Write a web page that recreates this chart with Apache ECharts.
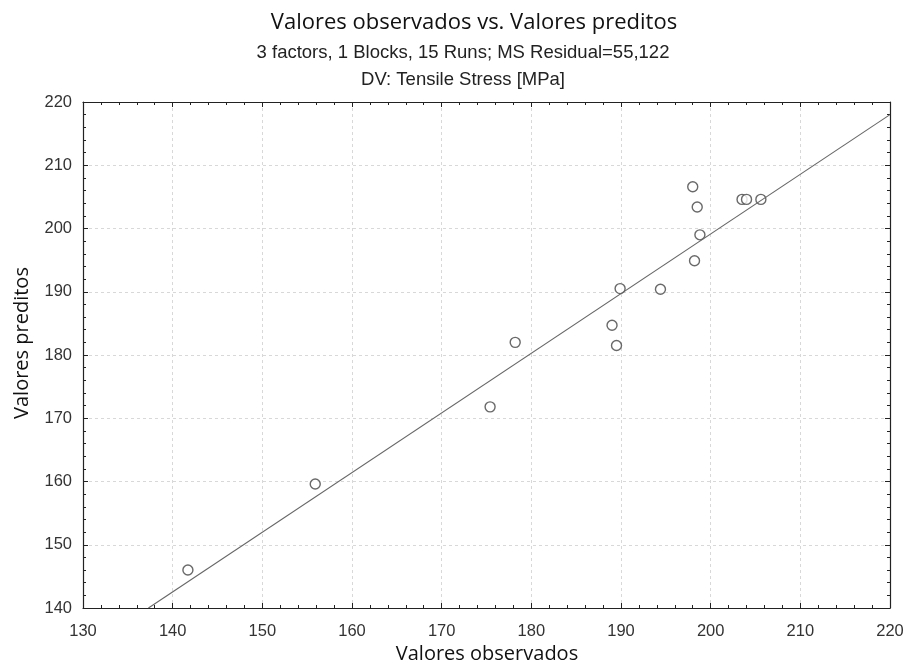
<!DOCTYPE html>
<html><head><meta charset="utf-8">
<script src="https://cdn.jsdelivr.net/npm/echarts@6/dist/echarts.min.js"></script>
<style>html,body{margin:0;padding:0;background:#fff}#c{width:908px;height:664px}</style>
</head><body><div id="c"></div>
<script>
const observed = [141.7, 155.9, 175.4, 178.2, 189.0, 189.5, 189.9, 194.4, 198.0, 198.5, 198.2, 198.8, 203.5, 204.0, 205.6];
const predicted = [146.0, 159.6, 171.8, 182.0, 184.7, 181.5, 190.5, 190.4, 206.6, 203.4, 194.9, 199.0, 204.6, 204.6, 204.6];
const fitLineX = [137.3, 220];
const fitLineY = [140, 218];
const xTicks = [130, 140, 150, 160, 170, 180, 190, 200, 210, 220];
const yTicks = [140, 150, 160, 170, 180, 190, 200, 210, 220];

const chart = echarts.init(document.getElementById('c'), null, {renderer: 'canvas'});
const pts = observed.map((v, i) => [v, predicted[i]]);
const line = fitLineX.map((v, i) => [v, fitLineY[i]]);
const axisCommon = {
  interval: 10,
  axisLine: {show: true, onZero: false, lineStyle: {color: '#222', width: 1.2}},
  axisTick: {show: true, inside: true, length: 5, lineStyle: {color: '#222'}},
  minorTick: {show: true, splitNumber: 5, length: 3, lineStyle: {color: '#222'}},
  splitLine: {show: true, lineStyle: {color: '#d8d8d8', type: [3, 3], width: 1}},
  axisLabel: {color: '#333', fontFamily: 'Liberation Sans', fontSize: 16.5}
};
chart.setOption({
  backgroundColor: '#fff',
  animation: false,
  title: [
    {text: 'Valores observados vs. Valores preditos', left: 469, top: 7, textAlign: 'center',
     textStyle: {fontFamily: 'Open Sans', fontSize: 22, fontWeight: 'normal', color: '#111'}},
    {text: '3 factors, 1 Blocks, 15 Runs; MS Residual=55,122', left: 458, top: 38, textAlign: 'center',
     textStyle: {fontFamily: 'Liberation Sans', fontSize: 18.5, fontWeight: 'normal', color: '#222'}},
    {text: 'DV: Tensile Stress [MPa]', left: 458, top: 65, textAlign: 'center',
     textStyle: {fontFamily: 'Liberation Sans', fontSize: 18.5, fontWeight: 'normal', color: '#222'}}
  ],
  graphic: [
    {type: 'text', x: 487, y: 654, style: {text: 'Valores observados', fontFamily: 'Open Sans', fontSize: 20,
      fill: '#111', align: 'center', verticalAlign: 'middle'}},
    {type: 'text', x: 22, y: 343, rotation: Math.PI / 2, style: {text: 'Valores preditos', fontFamily: 'Open Sans', fontSize: 20,
      fill: '#111', align: 'center', verticalAlign: 'middle'}}
  ],
  grid: {left: 83, right: 18, top: 102, bottom: 56, containLabel: false, outerBoundsMode: 'none'},
  xAxis: [Object.assign({}, axisCommon, {
    type: 'value', min: 130, max: 220,
    axisLabel: Object.assign({}, axisCommon.axisLabel, {margin: 15, formatter: v => xTicks.includes(v) ? String(v) : ''})
  }), {
    type: 'value', min: 130, max: 220, interval: 10, position: 'top',
    axisLine: {show: true, onZero: false, lineStyle: {color: '#222', width: 1.2}},
    axisTick: {show: true, inside: true, length: 5, lineStyle: {color: '#222'}},
    minorTick: {show: true, splitNumber: 5, length: 3, lineStyle: {color: '#222'}},
    axisLabel: {show: false}, splitLine: {show: false}
  }],
  yAxis: [Object.assign({}, axisCommon, {
    type: 'value', min: 140, max: 220,
    axisLabel: Object.assign({}, axisCommon.axisLabel, {margin: 11, formatter: v => yTicks.includes(v) ? String(v) : ''})
  }), {
    type: 'value', min: 140, max: 220, interval: 10, position: 'right',
    axisLine: {show: true, onZero: false, lineStyle: {color: '#222', width: 1.2}},
    axisTick: {show: true, inside: true, length: 5, lineStyle: {color: '#222'}},
    minorTick: {show: true, splitNumber: 5, length: 3, lineStyle: {color: '#222'}},
    axisLabel: {show: false}, splitLine: {show: false}
  }],
  series: [
    {type: 'line', data: line, symbol: 'none', clip: true,
     lineStyle: {color: '#666', width: 1.1}, silent: true},
    {type: 'scatter', data: pts, symbol: 'circle', symbolSize: 10,
     itemStyle: {color: '#fff', borderColor: '#444', borderWidth: 1.4}}
  ]
});
</script></body></html>
